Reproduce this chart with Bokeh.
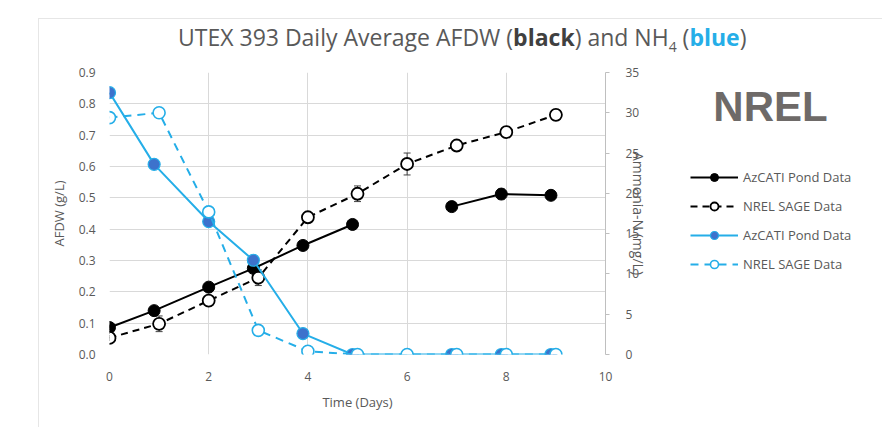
import numpy as np
from bokeh.plotting import figure
from bokeh.layouts import column, row
from bokeh.models import (Range1d, LinearAxis, Legend, LegendItem, Whisker, Div,
                          ColumnDataSource, FixedTicker, TeeHead, NumeralTickFormatter)
from bokeh.embed import file_html
from bokeh.resources import INLINE

# ---------------- data ----------------
az_days = [0, 0.9, 2, 2.9, 3.9, 4.9, 6.9, 7.9, 8.9]
az_afdw = [0.086, 0.14, 0.215, 0.275, 0.348, 0.415, 0.472, 0.512, 0.508]
az_afdw_err = [0.008, 0.008, 0.008, 0.008, 0.008, 0.008, 0.008, 0.016, 0.008]

nrel_days = [0, 1, 2, 3, 4, 5, 6, 7, 8, 9]
nrel_afdw = [0.053, 0.098, 0.172, 0.245, 0.438, 0.513, 0.608, 0.667, 0.71, 0.765]
nrel_afdw_err = [0.008, 0.025, 0.012, 0.025, 0.012, 0.025, 0.035, 0.016, 0.016, 0.016]

az_nh4 = [32.5, 23.6, 16.5, 11.7, 2.6, 0, 0, 0, 0]
nrel_nh4 = [29.4, 30.0, 17.7, 3.0, 0.4, 0, 0, 0, 0, 0]

series_labels = ["AzCATI Pond Data", "NREL SAGE Data", "AzCATI Pond Data", "NREL SAGE Data"]

x_ticks = [0, 2, 4, 6, 8, 10]
y_ticks = [0.0, 0.1, 0.2, 0.3, 0.4, 0.5, 0.6, 0.7, 0.8, 0.9]
y2_ticks = [0, 5, 10, 15, 20, 25, 30, 35]
gap_after = 6  # AzCATI AFDW line is broken between day 4.9 and 6.9

# ---------------- style ----------------
GREY = "#595959"
GRID = "#d9d9d9"
BLUE = "#25AEE8"
BLUE_FILL = "#3D72CC"
FONT = "Open Sans"

STYLES = [
    dict(line=dict(line_color="black", line_width=2),
         mark=dict(size=12, fill_color="black", line_color="black")),
    dict(line=dict(line_color="black", line_width=2, line_dash="7 5"),
         mark=dict(size=12, fill_color="white", line_color="black", line_width=1.8)),
    dict(line=dict(line_color=BLUE, line_width=2),
         mark=dict(size=12, fill_color=BLUE_FILL, line_color=BLUE, line_width=1.2)),
    dict(line=dict(line_color=BLUE, line_width=2, line_dash="8 6"),
         mark=dict(size=12, fill_color="white", line_color=BLUE, line_width=1.6)),
]
SERIES = [(az_days, az_afdw), (nrel_days, nrel_afdw), (az_days, az_nh4), (nrel_days, nrel_nh4)]

title_html = (
    '<div style="position:absolute;left:38px;top:18px;width:900px;height:420px;'
    'border:1px solid #e6e6e6;"></div>'
    '<div style="position:relative;padding-left:178px;padding-top:23px;white-space:nowrap;'
    "font-family:'Open Sans';font-size:23px;line-height:28px;color:#595959;\">"
    'UTEX 393 Daily Average AFDW (<b style="color:#404040">black</b>) and NH'
    '<sub style="font-size:14px">4</sub> (<b style="color:%s">blue</b>)</div>' % BLUE
)
title_div = Div(text=title_html, width=880, height=50, margin=0)

MAIN_W = 651
p = figure(width=MAIN_W, height=369, x_range=Range1d(0, 10), y_range=Range1d(0, 0.9),
           output_backend="svg", toolbar_location=None, margin=0,
           min_border_left=109, min_border_right=40, min_border_top=22, min_border_bottom=65)
p.extra_y_ranges = {"nh4": Range1d(0, 35)}
p.outline_line_color = None
p.border_fill_color = None
p.background_fill_color = "white"

# axes
p.xaxis.ticker = FixedTicker(ticks=x_ticks)
p.yaxis.ticker = FixedTicker(ticks=y_ticks)
p.yaxis.formatter = NumeralTickFormatter(format="0.0")
for ax in (p.xaxis[0], p.yaxis[0]):
    ax.axis_line_color = None
    ax.major_tick_line_color = None
    ax.minor_tick_line_color = None
    ax.major_label_text_color = GREY
    ax.major_label_text_font = FONT
    ax.major_label_text_font_size = "12px"
    ax.axis_label_text_color = GREY
    ax.axis_label_text_font = FONT
    ax.axis_label_text_font_size = "13px"
    ax.axis_label_text_font_style = "normal"
p.xaxis.axis_label = "Time (Days)"
p.yaxis.axis_label = "AFDW (g/L)"
p.xaxis.major_label_standoff = 11
p.xaxis.axis_label_standoff = 9
p.yaxis.major_label_standoff = 8
p.yaxis.axis_label_standoff = 8

rax = LinearAxis(y_range_name="nh4", ticker=FixedTicker(ticks=y2_ticks),
                 axis_label="Ammonia-N (mg/L)")
rax.axis_line_color = "#bfbfbf"
rax.major_tick_line_color = "#bfbfbf"
rax.major_tick_in = 0
rax.major_tick_out = 4
rax.minor_tick_line_color = None
rax.major_label_text_color = GREY
rax.major_label_text_font = FONT
rax.major_label_text_font_size = "12px"
rax.major_label_standoff = 16
rax.axis_label_text_color = GREY
rax.axis_label_text_font = FONT
rax.axis_label_text_font_size = "14px"
rax.axis_label_text_font_style = "normal"
rax.axis_label_standoff = -13
p.add_layout(rax, "right")

p.xgrid.ticker = FixedTicker(ticks=x_ticks)
p.ygrid.ticker = FixedTicker(ticks=y_ticks)
p.xgrid.grid_line_color = GRID
p.ygrid.grid_line_color = GRID

# error bars
w1 = ColumnDataSource(dict(base=nrel_days,
                           lower=[v - e for v, e in zip(nrel_afdw, nrel_afdw_err)],
                           upper=[v + e for v, e in zip(nrel_afdw, nrel_afdw_err)]))
w2 = ColumnDataSource(dict(base=az_days,
                           lower=[v - e for v, e in zip(az_afdw, az_afdw_err)],
                           upper=[v + e for v, e in zip(az_afdw, az_afdw_err)]))
for src in (w1, w2):
    wk = Whisker(source=src, base="base", lower="lower", upper="upper",
                 line_color="#404040", line_width=1, level="underlay",
                 upper_head=TeeHead(size=7, line_color="#404040"),
                 lower_head=TeeHead(size=7, line_color="#404040"))
    p.add_layout(wk)

# black series
az_x_line = np.insert(np.array(az_days, dtype=float), gap_after, np.nan)
az_y_line = np.insert(np.array(az_afdw, dtype=float), gap_after, np.nan)
p.line(az_x_line, az_y_line, **STYLES[0]["line"])
p.scatter(az_days, az_afdw, **STYLES[0]["mark"])
p.line(nrel_days, nrel_afdw, **STYLES[1]["line"])
p.scatter(nrel_days, nrel_afdw, **STYLES[1]["mark"])

# blue series
p.line(az_days, az_nh4, y_range_name="nh4", **STYLES[2]["line"])
p.scatter(az_days, az_nh4, y_range_name="nh4", **STYLES[2]["mark"])
p.line(nrel_days, nrel_nh4, y_range_name="nh4", **STYLES[3]["line"])
p.scatter(nrel_days, nrel_nh4, y_range_name="nh4", **STYLES[3]["mark"])

# ---------------- legend panel (separate canvas to the right) ----------------
# its ranges lie outside the data, so its renderers only feed the legend glyphs
lf = figure(width=880 - MAIN_W, height=369, output_backend="svg", toolbar_location=None,
            margin=0, min_border_left=28, min_border_top=13, min_border_right=0,
            min_border_bottom=0, x_range=Range1d(100, 101), y_range=Range1d(100, 101))
lf.axis.visible = False
lf.grid.visible = False
lf.outline_line_color = None
lf.border_fill_color = None
lf.background_fill_color = None

items = []
for lab, st, (xs, ys) in zip(series_labels, STYLES, SERIES):
    rl = lf.line(xs, ys, **st["line"])
    rm = lf.scatter(xs, ys, **st["mark"])
    items.append(LegendItem(label=lab, renderers=[rl, rm]))

legend = Legend(items=items, location="top_left", glyph_width=48, glyph_height=20,
                label_height=20, spacing=9, padding=41, margin=11, label_standoff=5,
                border_line_color=None, background_fill_alpha=0,
                label_text_font=FONT, label_text_font_size="13px", label_text_color=GREY,
                title="\u00a0\u00a0NREL", title_text_font="Liberation Sans",
                title_text_font_size="42px", title_text_font_style="bold",
                title_text_color="#6e6a68", title_standoff=36)
lf.add_layout(legend)

layout = column(title_div, row(p, lf, spacing=0, margin=0), spacing=0, margin=0)
open("out.html", "w").write(file_html(layout, INLINE))
